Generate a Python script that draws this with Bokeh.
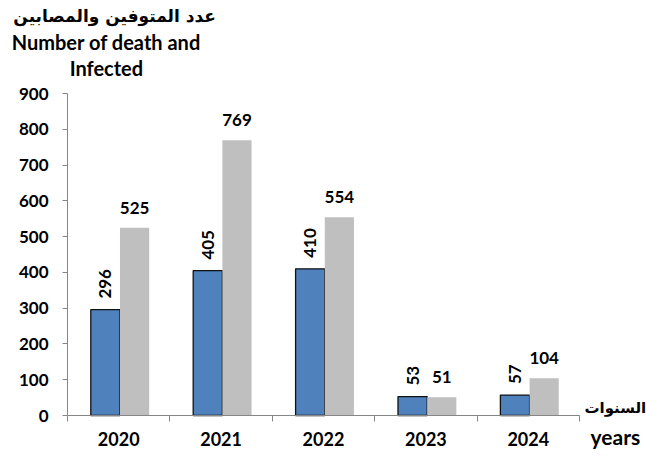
import math
from bokeh.plotting import figure
from bokeh.models import (ColumnDataSource, FixedTicker, LabelSet, Range1d,
                          CustomJSTickFormatter)
from bokeh.core.properties import value
from bokeh.transform import dodge
from bokeh.embed import file_html
from bokeh.resources import INLINE

years = ["2020", "2021", "2022", "2023", "2024"]
deaths = [296, 405, 410, 53, 57]
infected = [525, 769, 554, 51, 104]
y_ticks = [0, 100, 200, 300, 400, 500, 600, 700, 800, 900]

title_ar = "عدد المتوفين والمصابين"
title_en = ["Number of death and", "Infected"]
xlab_ar = "السنوات"
xlab_en = "years"

FONT = "Lato"
FONT_AR = "DejaVu Sans"
AXC = "#868686"

# canvas / plot geometry (pixels)
W, H = 646, 456
PX_X0, PX_X1 = 67, 579     # x = 0 .. n
PX_Y0, PX_Y1 = 415, 93     # y = 0 .. 900
n = len(years)
ux = (PX_X1 - PX_X0) / n
uy = (PX_Y0 - PX_Y1) / 900.0
x_range = Range1d(-PX_X0 / ux, (W - PX_X0) / ux)
y_range = Range1d(-(H - PX_Y0) / uy, 900 + PX_Y1 / uy)

xs = [i + 0.5 for i in range(n)]
src = ColumnDataSource(dict(
    x=xs, deaths=deaths, infected=infected,
    dl=[str(v) for v in deaths], il=[str(v) for v in infected],
))

p = figure(width=W, height=H, x_range=x_range, y_range=y_range,
           output_backend="svg", toolbar_location=None, min_border=0)
p.outline_line_color = None
p.grid.visible = False

p.vbar(x=dodge('x', -0.13, range=p.x_range), top='deaths', width=0.285, source=src,
       fill_color="#4F81BD", line_color="#111111", line_width=1.3)
p.vbar(x=dodge('x', 0.155, range=p.x_range), top='infected', width=0.285, source=src,
       fill_color="#BFBFBF", line_color=None)

p.add_layout(LabelSet(x=dodge('x', -0.13, range=p.x_range), y='deaths', text='dl', source=src,
                      angle=math.pi / 2, text_align='left', text_baseline='middle', y_offset=11,
                      text_font=value(FONT), text_font_style='bold', text_font_size='17px',
                      text_color='black'))
p.add_layout(LabelSet(x=dodge('x', 0.155, range=p.x_range), y='infected', text='il', source=src,
                      text_align='center', text_baseline='middle', y_offset=20,
                      text_font=value(FONT), text_font_style='bold', text_font_size='17px',
                      text_color='black'))

# y axis
p.yaxis.fixed_location = 0
p.yaxis.bounds = (0, 900)
p.yaxis.ticker = FixedTicker(ticks=y_ticks)
p.yaxis.axis_line_color = AXC
p.yaxis.major_tick_line_color = AXC
p.yaxis.major_tick_out = 5
p.yaxis.major_tick_in = 0
p.yaxis.minor_tick_line_color = None
p.yaxis.major_label_standoff = 14
p.yaxis.major_label_text_font = FONT
p.yaxis.major_label_text_font_style = 'bold'
p.yaxis.major_label_text_font_size = '17px'
p.yaxis.major_label_text_color = 'black'

# x axis
p.xaxis.fixed_location = 0
p.xaxis.bounds = (0, n)
p.xaxis.ticker = FixedTicker(ticks=xs, minor_ticks=list(range(n + 1)))
p.xaxis.formatter = CustomJSTickFormatter(args=dict(labels=years),
                                          code="const i = Math.floor(tick); return labels[i] ?? '';")
p.xaxis.axis_line_color = AXC
p.xaxis.major_tick_line_color = None
p.xaxis.major_tick_out = 6
p.xaxis.minor_tick_line_color = AXC
p.xaxis.minor_tick_out = 6
p.xaxis.minor_tick_in = 0
p.xaxis.major_label_standoff = 10
p.xaxis.major_label_text_font = FONT
p.xaxis.major_label_text_font_style = 'bold'
p.xaxis.major_label_text_font_size = '18px'
p.xaxis.major_label_text_color = 'black'


def add_texts(xv, yv, texts, size, font=FONT):
    s = ColumnDataSource(dict(x=xv, y=yv, t=texts))
    p.add_layout(LabelSet(x='x', y='y', text='t', source=s,
                          text_align='center', text_baseline='middle',
                          text_font=value(font), text_font_style='bold',
                          text_font_size=size, text_color='black'))


# axis titles (placed in data space of the extended frame)
add_texts([0.46], [1116], [title_ar], '17px', FONT_AR)
add_texts([0.38, 0.38], [1043, 970], title_en, '20px')
add_texts([5.35], [21], [xlab_ar], '15px', FONT_AR)
add_texts([5.35], [-59], [xlab_en], '21px')

open("out.html", "w").write(file_html(p, INLINE))
